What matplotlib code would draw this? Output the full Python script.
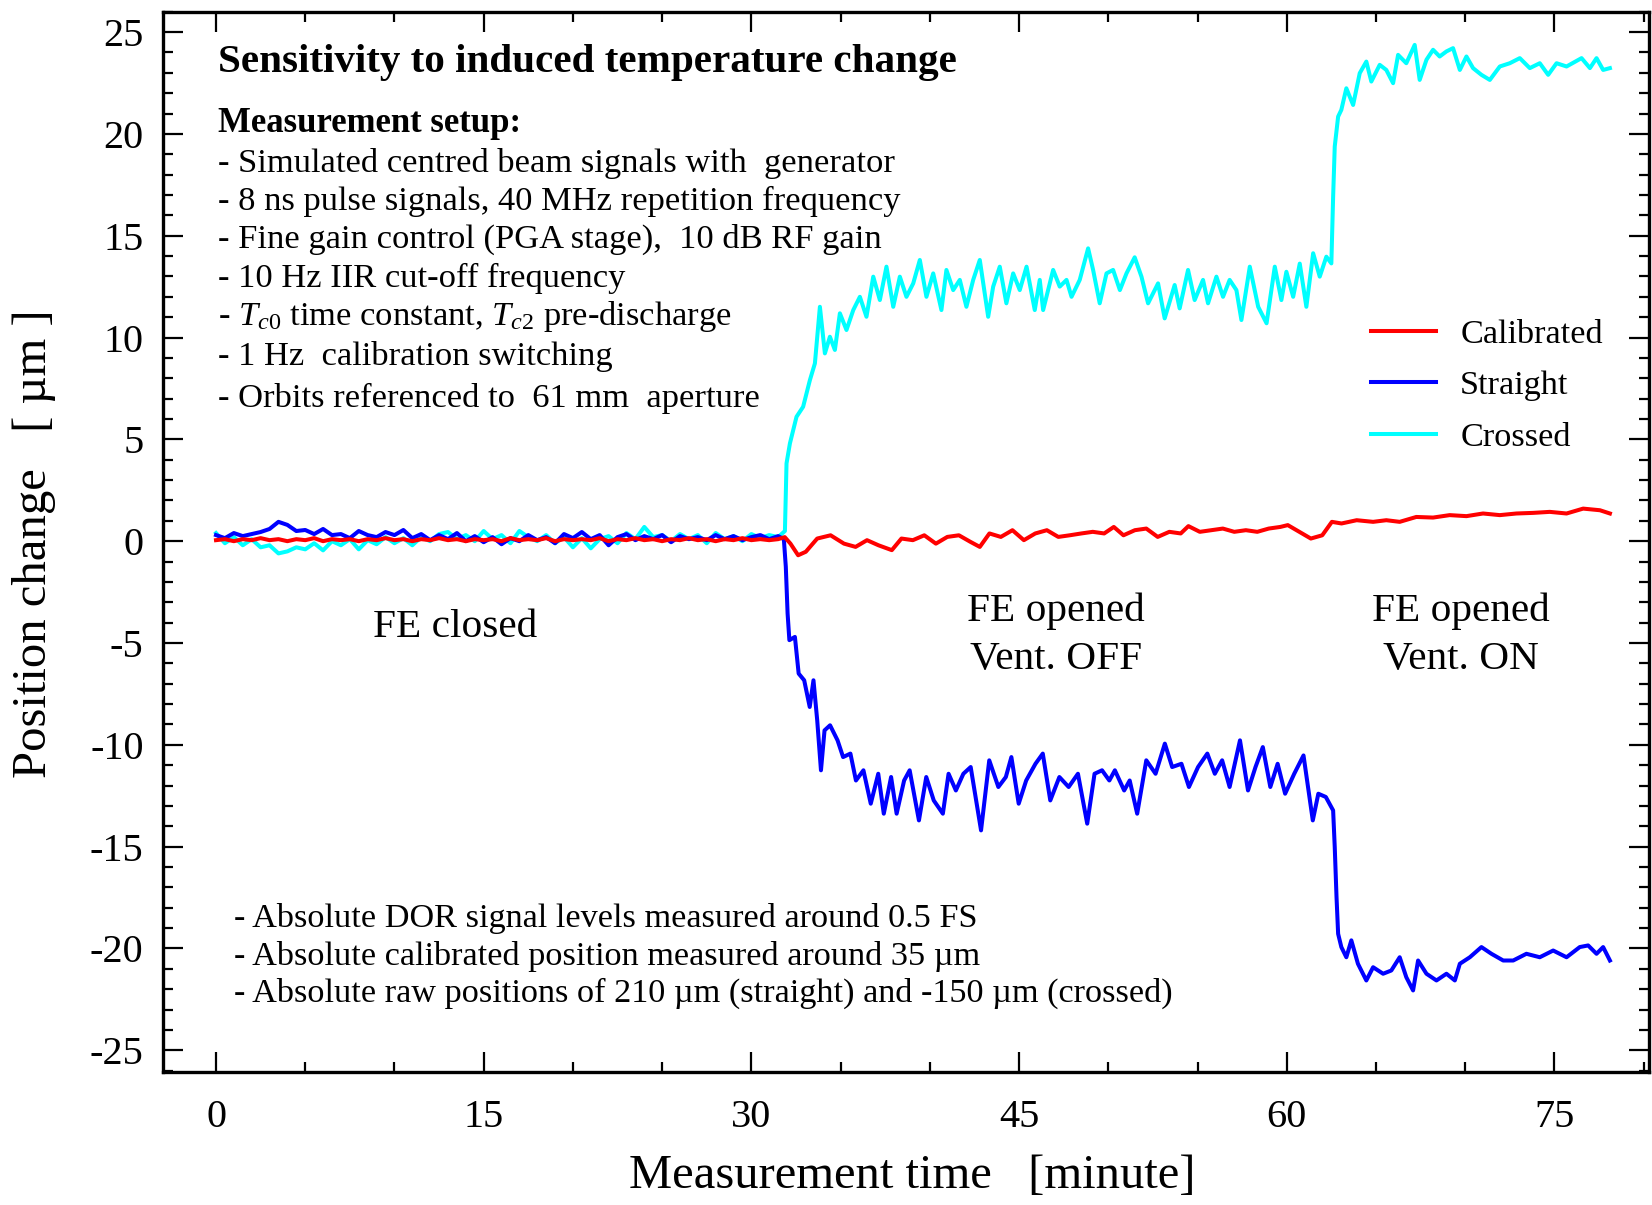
import numpy as np
import matplotlib
matplotlib.use("Agg")
import matplotlib.pyplot as plt
from matplotlib.ticker import MultipleLocator

plt.rcParams['font.family'] = ['Liberation Serif', 'DejaVu Serif']
plt.rcParams['mathtext.fontset'] = 'custom'
plt.rcParams['mathtext.rm'] = 'Liberation Serif'
plt.rcParams['mathtext.it'] = 'Liberation Serif:italic'
plt.rcParams['axes.unicode_minus'] = False

# ---- data (minutes, micrometres) ----
flat_time = np.arange(0, 32, 0.5)

calib_flat = [0.05, 0.1, 0.0, 0.1, 0.05, 0.15, 0.05, 0.1, 0.0, 0.1,
              0.05, 0.15, 0.0, 0.1, 0.05, 0.1, 0.0, 0.1, 0.05, 0.15,
              0.05, 0.1, 0.0, 0.1, 0.05, 0.15, 0.05, 0.1, 0.0, 0.1,
              0.05, 0.1, 0.0, 0.15, 0.05, 0.1, 0.05, 0.15, 0.0, 0.1,
              0.05, 0.1, 0.05, 0.15, 0.0, 0.1, 0.05, 0.15, 0.05, 0.1,
              0.0, 0.1, 0.05, 0.15, 0.05, 0.1, 0.0, 0.1, 0.05, 0.15,
              0.05, 0.1, 0.05, 0.1]
straight_flat = [0.3, 0.15, 0.4, 0.25, 0.35, 0.45, 0.6, 0.95, 0.8, 0.5,
                 0.55, 0.35, 0.6, 0.3, 0.35, 0.15, 0.5, 0.3, 0.2, 0.45,
                 0.3, 0.55, 0.15, 0.35, 0.05, 0.3, 0.1, 0.4, 0.0, 0.25,
                 -0.05, 0.2, -0.15, 0.15, 0.0, 0.3, 0.05, 0.2, -0.1, 0.35,
                 0.15, 0.45, 0.1, 0.3, -0.2, 0.2, 0.35, 0.05, 0.25, 0.1,
                 0.3, -0.05, 0.25, 0.1, 0.2, 0.05, 0.3, 0.1, 0.25, 0.05,
                 0.2, 0.3, 0.1, 0.25]
crossed_flat = [0.4, -0.1, 0.2, -0.2, 0.1, -0.3, -0.2, -0.6, -0.5, -0.3,
                -0.4, -0.1, -0.45, 0.0, -0.2, 0.1, -0.4, 0.05, -0.15, 0.2,
                -0.1, 0.15, -0.2, 0.2, 0.0, 0.35, 0.45, 0.1, 0.3, 0.0,
                0.5, 0.1, 0.3, -0.1, 0.5, 0.2, 0.0, 0.3, -0.1, 0.2,
                -0.3, 0.15, -0.35, 0.1, 0.25, -0.1, 0.4, 0.1, 0.7, 0.2,
                0.3, 0.0, 0.35, 0.1, 0.3, -0.1, 0.4, 0.1, 0.25, 0.0,
                0.35, 0.15, 0.3, 0.2]

calib_time = [31.87, 32.19, 32.62, 33.05, 33.69, 34.44, 35.19, 35.84, 36.48, 37.12,
              37.87, 38.41, 39.05, 39.69, 40.34, 40.98, 41.63, 42.27, 42.8, 43.34,
              43.98, 44.63, 45.27, 45.91, 46.56, 47.2, 47.84, 48.49, 49.13, 49.77,
              50.31, 50.85, 51.49, 52.13, 52.77, 53.42, 54.06, 54.49, 55.13, 55.78,
              56.42, 57.06, 57.71, 58.35, 58.99, 59.64, 60.06, 60.71, 61.35, 61.99,
              62.53, 63.07, 63.92, 64.84, 65.58, 66.33, 67.26, 68.2, 69.13, 70.07,
              71.0, 71.94, 72.87, 73.81, 74.74, 75.68, 76.61, 77.55, 78.11]
calib_pos = [0.2, -0.12, -0.69, -0.52, 0.13, 0.29, -0.12, -0.28, 0.05, -0.2,
             -0.44, 0.13, 0.05, 0.29, -0.12, 0.21, 0.29, -0.03, -0.28, 0.38,
             0.21, 0.54, 0.05, 0.38, 0.54, 0.21, 0.29, 0.38, 0.46, 0.38,
             0.7, 0.29, 0.54, 0.62, 0.21, 0.46, 0.38, 0.74, 0.46, 0.54,
             0.62, 0.46, 0.54, 0.46, 0.62, 0.7, 0.79, 0.46, 0.13, 0.29,
             0.95, 0.87, 1.03, 0.95, 1.03, 0.95, 1.19, 1.16, 1.28, 1.23,
             1.36, 1.28, 1.36, 1.39, 1.44, 1.36, 1.6, 1.52, 1.36]

straight_time = [31.82, 31.93, 32.03, 32.13, 32.44, 32.65, 32.96, 33.27, 33.48, 33.69,
                 33.9, 34.1, 34.41, 34.83, 35.14, 35.55, 35.86, 36.28, 36.69, 37.11,
                 37.42, 37.83, 38.14, 38.56, 38.87, 39.39, 39.8, 40.22, 40.73, 41.05,
                 41.46, 41.88, 42.29, 42.87, 43.33, 43.84, 44.26, 44.57, 44.98, 45.4,
                 45.92, 46.33, 46.75, 47.26, 47.78, 48.3, 48.82, 49.23, 49.65, 50.06,
                 50.37, 50.89, 51.2, 51.62, 52.13, 52.65, 53.17, 53.58, 54.1, 54.52,
                 55.03, 55.55, 55.97, 56.38, 56.8, 57.38, 57.83, 58.25, 58.66, 59.08,
                 59.49, 59.91, 60.42, 60.94, 61.46, 61.77, 62.19, 62.5, 62.6, 62.69,
                 62.79, 62.88, 63.06, 63.34, 63.62, 63.99, 64.46, 64.84, 65.4, 65.86,
                 66.33, 66.7, 67.08, 67.36, 67.83, 68.39, 68.95, 69.42, 69.7, 70.26,
                 70.91, 71.47, 72.13, 72.69, 73.43, 74.18, 74.93, 75.68, 76.42, 76.89,
                 77.36, 77.73, 78.11]
straight_pos = [0.1, -1.26, -3.55, -4.86, -4.7, -6.5, -6.83, -8.14, -6.83, -8.8,
                -11.25, -9.29, -9.04, -9.78, -10.6, -10.43, -11.75, -11.25, -12.89, -11.42,
                -13.38, -11.58, -13.38, -11.75, -11.25, -13.71, -11.58, -12.73, -13.38, -11.42,
                -12.24, -11.42, -11.09, -14.2, -10.76, -12.07, -11.58, -10.6, -12.89, -11.75,
                -10.93, -10.43, -12.73, -11.58, -12.07, -11.42, -13.87, -11.42, -11.25, -11.75,
                -11.25, -12.24, -11.75, -13.38, -10.76, -11.42, -9.94, -11.09, -10.93, -12.07,
                -11.09, -10.43, -11.42, -10.76, -12.07, -9.78, -12.24, -11.09, -10.11, -12.07,
                -10.93, -12.4, -11.42, -10.52, -13.71, -12.4, -12.56, -13.06, -13.22, -15.02,
                -17.48, -19.28, -19.93, -20.43, -19.6, -20.75, -21.57, -20.92, -21.24, -21.08,
                -20.43, -21.41, -22.06, -20.59, -21.24, -21.57, -21.24, -21.57, -20.75, -20.43,
                -19.93, -20.26, -20.59, -20.59, -20.26, -20.43, -20.1, -20.43, -19.93, -19.85,
                -20.26, -19.93, -20.59]

crossed_time = [31.88, 31.97, 32.16, 32.53, 32.9, 33.28, 33.56, 33.84, 34.12, 34.4,
                34.68, 34.96, 35.33, 35.71, 36.08, 36.45, 36.83, 37.2, 37.57, 37.95,
                38.32, 38.69, 39.07, 39.44, 39.81, 40.19, 40.65, 40.93, 41.31, 41.68,
                42.05, 42.43, 42.8, 43.27, 43.55, 43.92, 44.29, 44.67, 45.04, 45.42,
                45.88, 46.16, 46.35, 46.91, 47.28, 47.66, 47.94, 48.4, 48.87, 49.15,
                49.52, 49.9, 50.27, 50.65, 51.02, 51.48, 51.86, 52.23, 52.79, 53.16,
                53.72, 54.0, 54.47, 54.84, 55.31, 55.59, 56.06, 56.43, 56.8, 57.18,
                57.46, 57.93, 58.4, 58.87, 59.33, 59.7, 59.98, 60.36, 60.73, 61.1,
                61.48, 61.85, 62.22, 62.5, 62.6, 62.69, 62.88, 63.06, 63.34, 63.72,
                64.09, 64.46, 64.74, 65.21, 65.58, 65.96, 66.24, 66.7, 67.17, 67.45,
                67.83, 68.2, 68.57, 68.95, 69.32, 69.7, 70.07, 70.44, 70.91, 71.38,
                71.94, 72.5, 73.06, 73.62, 74.18, 74.65, 75.12, 75.68, 76.52, 76.99,
                77.36, 77.73, 78.11]
crossed_pos = [0.5, 3.82, 4.8, 6.11, 6.6, 7.91, 8.73, 11.51, 9.22, 10.04,
               9.39, 11.19, 10.37, 11.35, 12.0, 11.02, 12.99, 11.84, 13.48, 11.51,
               12.99, 12.0, 12.66, 13.81, 12.0, 13.15, 11.35, 13.32, 12.33, 12.83,
               11.51, 12.83, 13.81, 11.02, 12.5, 13.48, 11.68, 13.15, 12.33, 13.48,
               11.35, 12.83, 11.35, 13.32, 12.5, 12.83, 12.0, 12.83, 14.38, 13.32,
               11.68, 13.15, 13.32, 12.33, 13.15, 13.94, 12.99, 11.68, 12.66, 10.94,
               12.58, 11.43, 13.32, 11.84, 12.83, 11.68, 12.99, 12.0, 12.83, 12.33,
               10.86, 13.48, 11.51, 10.7, 13.48, 11.84, 13.23, 12.0, 13.63, 11.51,
               14.14, 12.99, 13.97, 13.64, 16.92, 19.38, 20.85, 21.18, 22.24, 21.42,
               22.98, 23.55, 22.57, 23.39, 23.14, 22.49, 23.88, 23.47, 24.37, 22.65,
               23.64, 24.13, 23.8, 24.05, 24.21, 23.14, 23.8, 23.23, 22.9, 22.65,
               23.31, 23.47, 23.72, 23.23, 23.47, 22.9, 23.47, 23.31, 23.72, 23.23,
               23.72, 23.14, 23.23]

series_names = ['Calibrated', 'Straight', 'Crossed']
series_colors = ['#ff0000', '#0000ff', '#00ffff']

setup_lines = [
    '- Simulated centred beam signals with  generator',
    '- 8 ns pulse signals, 40 MHz repetition frequency',
    '- Fine gain control (PGA stage),  10 dB RF gain',
    '- 10 Hz IIR cut-off frequency',
    r'- $\mathit{T}_{\mathit{c0}}$ time constant, $\mathit{T}_{\mathit{c2}}$ pre-discharge',
    '- 1 Hz  calibration switching',
    '- Orbits referenced to  61 mm  aperture',
]
setup_baselines = [18.15, 16.27, 14.4, 12.47, 10.61, 8.65, 6.6]

note_lines = [
    '- Absolute DOR signal levels measured around 0.5 FS',
    '- Absolute calibrated position measured around 35 \u00b5m',
    '- Absolute raw positions of 210 \u00b5m (straight) and -150 \u00b5m (crossed)',
]
note_baselines = [-18.94, -20.82, -22.61]

# ---- figure ----
fig = plt.figure(figsize=(16.52, 12.05), dpi=100)
ax = fig.add_axes([163 / 1652, 133.3 / 1205, 1486 / 1652, 1060 / 1205])

t_cal = np.concatenate([flat_time, calib_time])
y_cal = np.concatenate([calib_flat, calib_pos])
t_str = np.concatenate([flat_time, straight_time])
y_str = np.concatenate([straight_flat, straight_pos])
t_cro = np.concatenate([flat_time, crossed_time])
y_cro = np.concatenate([crossed_flat, crossed_pos])

l_cro, = ax.plot(t_cro, y_cro, color=series_colors[2], lw=2.9, zorder=2)
l_str, = ax.plot(t_str, y_str, color=series_colors[1], lw=2.9, zorder=3)
l_cal, = ax.plot(t_cal, y_cal, color=series_colors[0], lw=2.9, zorder=4)

ax.set_xlim(-2.97, 80.3)
ax.set_ylim(-26.05, 26.0)
ax.set_xticks([0, 15, 30, 45, 60, 75])
ax.xaxis.set_minor_locator(MultipleLocator(5))
ax.yaxis.set_major_locator(MultipleLocator(5))
ax.yaxis.set_minor_locator(MultipleLocator(1))
ax.tick_params(which='both', direction='in', top=True, right=True, width=1.6)
ax.tick_params(which='major', length=14.5, labelsize=29)
ax.tick_params(which='minor', length=7.5)
ax.tick_params(axis='x', pad=20)
ax.tick_params(axis='y', pad=14)
for s in ax.spines.values():
    s.set_linewidth(2.4)

ax.set_xlabel('Measurement time   [minute]', fontsize=35)
ax.xaxis.set_label_coords(0.504, -0.078)
ax.set_ylabel('Position change   [ \u00b5m ]', fontsize=35)
ax.yaxis.set_label_coords(-0.072, 0.498)

# annotation block
ax.text(0.11, 23.06, 'Sensitivity to induced temperature change',
        fontsize=29.6, fontweight='bold', va='baseline')
ax.text(0.11, 20.11, 'Measurement setup:', fontsize=25, fontweight='bold', va='baseline')
for line, yb in zip(setup_lines, setup_baselines):
    ax.text(0.11, yb, line, fontsize=24.8, va='baseline')
for line, yb in zip(note_lines, note_baselines):
    ax.text(1.01, yb, line, fontsize=24.7, va='baseline')

ax.text(13.39, -4.69, 'FE closed', fontsize=29.7, ha='center', va='baseline')
ax.text(47.07, -3.9, 'FE opened', fontsize=29.7, ha='center', va='baseline')
ax.text(47.07, -6.29, 'Vent. OFF', fontsize=29.7, ha='center', va='baseline')
ax.text(69.76, -3.9, 'FE opened', fontsize=29.7, ha='center', va='baseline')
ax.text(69.76, -6.29, 'Vent. ON', fontsize=29.7, ha='center', va='baseline')

ax.legend([l_cal, l_str, l_cro], series_names, loc='center left',
          bbox_to_anchor=(0.8129, 0.647), frameon=False, fontsize=24.7,
          borderpad=0, borderaxespad=0, handlelength=1.91, handletextpad=0.69,
          labelspacing=0.6)

fig.savefig('out.png', dpi=100)
